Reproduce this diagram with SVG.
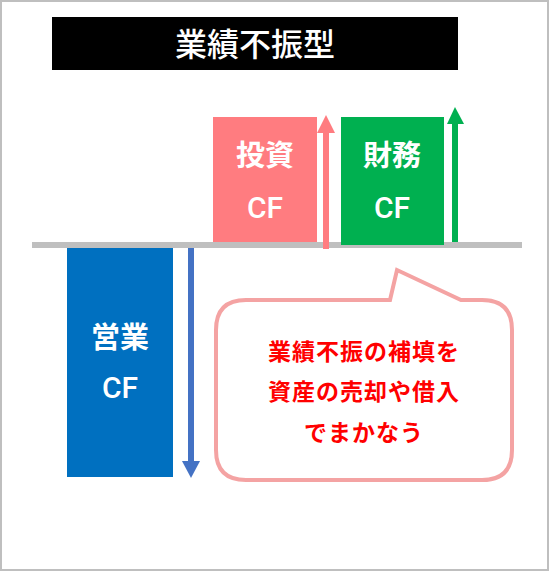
<svg xmlns="http://www.w3.org/2000/svg" width="549" height="571" viewBox="0 0 549 571">
<style>
.jp{font-family:"Noto Sans CJK JP","Noto Sans",sans-serif;}
.lbl{font-family:"Noto Sans CJK JP","Noto Sans",sans-serif;fill:#fff;font-size:29px;font-weight:bold;text-anchor:middle;}
.cf{font-family:Roboto,"Liberation Sans",Arial,sans-serif;fill:#fff;font-size:30px;font-weight:500;text-anchor:middle;}
.call{font-family:"Noto Sans CJK JP",sans-serif;fill:#FF0000;font-size:23px;font-weight:bold;text-anchor:middle;letter-spacing:1px;}
</style>
<rect x="1" y="1" width="547" height="569" fill="#fff" stroke="#BFBFBF" stroke-width="2"/>
<g id="title">
<rect x="52" y="17" width="406" height="53" fill="#000"/>
<text x="255" y="56" class="jp" fill="#fff" font-size="32" font-weight="500" text-anchor="middle">業績不振型</text>
</g>
<g id="baseline">
<rect x="32" y="242" width="490" height="6" fill="#BFBFBF"/>
</g>
<g id="investing">
<rect x="213" y="117" width="104" height="125" fill="#FF7C80"/>
<text x="265" y="166" class="lbl">投資</text>
<text x="265" y="218" class="cf">CF</text>
</g>
<g id="financing">
<rect x="341" y="117" width="103" height="128" fill="#00B050"/>
<text x="392" y="166" class="lbl">財務</text>
<text x="392" y="218" class="cf">CF</text>
</g>
<g id="operating">
<rect x="67" y="248" width="106" height="229" fill="#0070C0"/>
<text x="120" y="348" class="lbl">営業</text>
<text x="120" y="398" class="cf">CF</text>
</g>
<g id="connectors">
<rect x="323" y="132" width="6" height="117" fill="#FF7C80"/>
<polygon points="317,133 326,115 335,133" fill="#FF7C80"/>
<rect x="452" y="123" width="6" height="119" fill="#00B050"/>
<polygon points="447,124 455,107 464,124" fill="#00B050"/>
<rect x="188" y="248" width="6" height="214" fill="#4472C4"/>
<polygon points="182,461 191,478 200,461" fill="#4472C4"/>
</g>
<g id="callout">
<path d="M246,300 L390,300 L397,270 L461,300 L482,300 Q512,300 512,330 L512,450 Q512,480 482,480 L246,480 Q216,480 216,450 L216,330 Q216,300 246,300 Z" fill="#fff" stroke="#F4A3A3" stroke-width="4" stroke-linejoin="miter"/>
<text x="364" y="360" class="call">業績不振の補填を</text>
<text x="364" y="400" class="call">資産の売却や借入</text>
<text x="364" y="441" class="call">でまかなう</text>
</g>
</svg>
